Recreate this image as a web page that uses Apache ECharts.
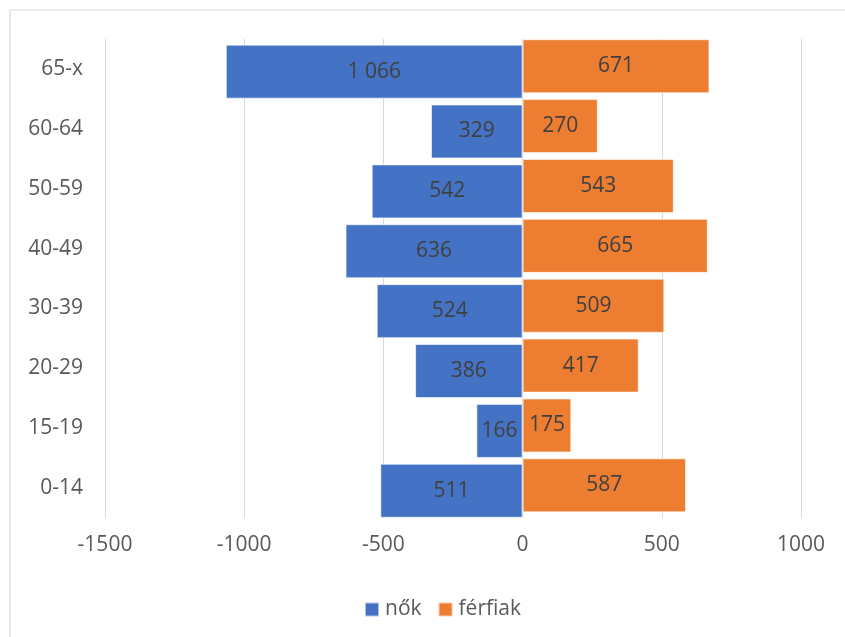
<!DOCTYPE html>
<html>
<head>
<meta charset="utf-8">
<script src="https://cdn.jsdelivr.net/npm/echarts@6/dist/echarts.min.js"></script>
<style>
html,body{margin:0;padding:0;background:#fff;}
#chart{width:845px;height:637px;}
</style>
</head>
<body>
<div id="chart"></div>
<script>
const categories = ['0-14','15-19','20-29','30-39','40-49','50-59','60-64','65-x'];
const nok = [511, 166, 386, 524, 636, 542, 329, 1066];
const ferfiak = [587, 175, 417, 509, 665, 543, 270, 671];
const xTicks = [-1500, -1000, -500, 0, 500, 1000];
const seriesNames = ['nők', 'férfiak'];

const FONT = '"Open Sans", "Noto Sans", sans-serif';
function fmt(v) {
  const s = String(Math.abs(Math.round(v)));
  return s.replace(/\B(?=(\d{3})+(?!\d))/g, ' ');
}

const chart = echarts.init(document.getElementById('chart'), null, {renderer: 'canvas'});
chart.setOption({
  animation: false,
  backgroundColor: '#fff',
  textStyle: {fontFamily: FONT},
  graphic: [{
    type: 'rect',
    shape: {x: 10, y: 10, width: 900, height: 700},
    style: {fill: 'none', stroke: '#d9d9d9', lineWidth: 1.2},
    silent: true,
    z: -10
  }],
  grid: {left: 105, right: 44, top: 39, bottom: 119, containLabel: false},
  legend: {
    data: seriesNames,
    left: 359,
    top: 594,
    itemWidth: 14,
    itemHeight: 14,
    itemGap: 16,
    icon: 'rect',
    textStyle: {fontFamily: FONT, fontSize: 21, color: '#595959', padding: [0, 0, 0, 1]}
  },
  xAxis: {
    type: 'value',
    min: xTicks[0],
    max: xTicks[xTicks.length - 1],
    interval: 500,
    axisLine: {show: false},
    axisTick: {show: false},
    splitLine: {show: true, lineStyle: {color: '#d9d9d9', width: 1}},
    axisLabel: {
      margin: 17,
      fontFamily: FONT, fontSize: 21, color: '#595959',
      formatter: v => String(v)
    }
  },
  yAxis: {
    type: 'category',
    data: categories,
    axisLine: {show: false},
    axisTick: {show: false},
    axisLabel: {margin: 22, fontFamily: FONT, fontSize: 21, color: '#595959'}
  },
  series: [
    {
      name: seriesNames[1],
      type: 'bar',
      data: ferfiak,
      barWidth: 54,
      barGap: '-90%',
      itemStyle: {color: '#ED7D31', borderColor: 'rgba(255,255,255,0.6)', borderWidth: 1},
      label: {
        show: true, position: 'inside',
        fontFamily: FONT, fontSize: 21, color: '#404040',
        formatter: p => fmt(p.value)
      }
    },
    {
      name: seriesNames[0],
      type: 'bar',
      data: nok.map(v => -v),
      barWidth: 54,
      barGap: '-90%',
      itemStyle: {color: '#4472C4', borderColor: 'rgba(255,255,255,0.6)', borderWidth: 1},
      label: {
        show: true, position: 'inside',
        fontFamily: FONT, fontSize: 21, color: '#404040',
        formatter: p => fmt(p.value)
      }
    }
  ]
});
</script>
</body>
</html>
